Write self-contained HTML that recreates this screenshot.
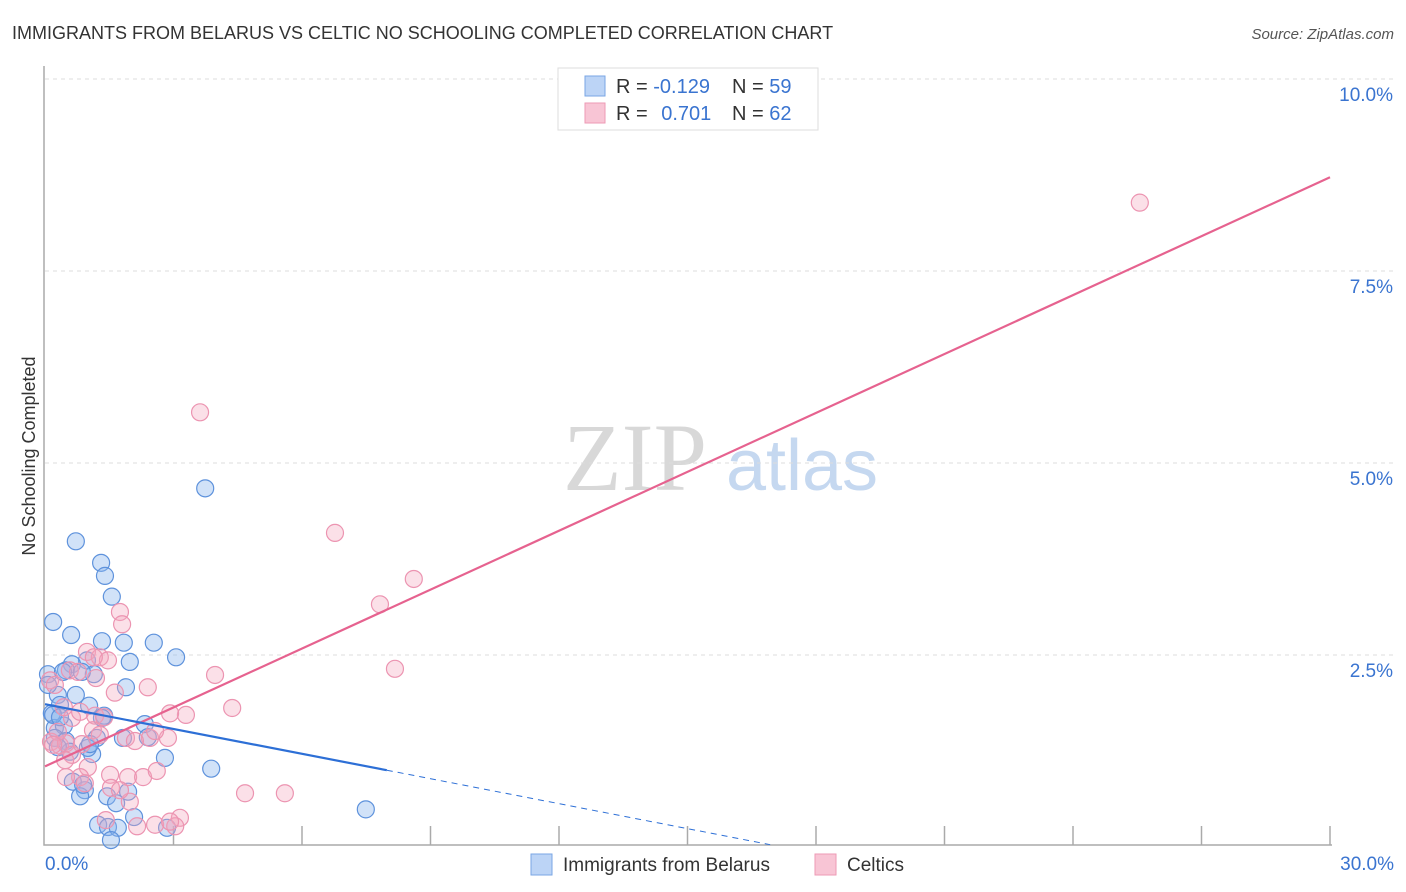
<!DOCTYPE html>
<html><head><meta charset="utf-8">
<style>
body{margin:0;background:#fff;font-family:"Liberation Sans",sans-serif;}
svg{display:block}
</style></head>
<body>
<svg id="chart" width="1406" height="892" xmlns="http://www.w3.org/2000/svg">
<text x="12" y="39" font-size="18" fill="#333">IMMIGRANTS FROM BELARUS VS CELTIC NO SCHOOLING COMPLETED CORRELATION CHART</text>
<text x="1394" y="39" font-size="15" fill="#555" font-style="italic" text-anchor="end">Source: ZipAtlas.com</text>
<text x="35" y="456" font-size="18" fill="#333" text-anchor="middle" transform="rotate(-90 35 456)">No Schooling Completed</text>
<g>
<text x="635" y="490" font-size="96" fill="#d8d8d8" text-anchor="middle" font-family="Liberation Serif,serif">ZIP</text>
<text x="802" y="490" font-size="72" fill="#c5d8f0" text-anchor="middle">atlas</text>
</g>
<g id="grid"></g>
<g id="axes"></g>
<g id="pts"></g>
<g id="lines"></g>
<g>
<rect x="558" y="68" width="260" height="62" fill="#fff" stroke="#ddd"/>
<rect x="585" y="76" width="20" height="20" fill="#bcd4f6" stroke="#7aa6e4"/>
<rect x="585" y="103" width="20" height="20" fill="#f8c5d5" stroke="#ee9ab5"/>
<text x="616" y="93" font-size="20" fill="#333">R = <tspan fill="#3a74d0">-0.129</tspan></text>
<text x="732" y="93" font-size="20" fill="#333">N = <tspan fill="#3a74d0">59</tspan></text>
<text x="616" y="120" font-size="20" fill="#333">R = <tspan fill="#3a74d0" dx="8">0.701</tspan></text>
<text x="732" y="120" font-size="20" fill="#333">N = <tspan fill="#3a74d0">62</tspan></text>
</g>
<g>
<rect x="531" y="854" width="21" height="21" fill="#bcd4f6" stroke="#7aa6e4"/>
<text x="563" y="871" font-size="19" fill="#333">Immigrants from Belarus</text>
<rect x="815" y="854" width="21" height="21" fill="#f8c5d5" stroke="#ee9ab5"/>
<text x="847" y="871" font-size="19" fill="#333">Celtics</text>
</g>
</svg>
<script>
const xTicks=[0,3,6,9,12,15,18,21,24,27,30];
const yTicks=[2.5,5.0,7.5,10.0];
const blueX=[0.72,1.31,1.40,1.56,0.19,0.61,1.33,1.84,2.54,3.06,1.98,0.98,0.63,0.49,1.14,0.07,1.89,0.72,0.30,0.35,1.03,1.38,2.33,0.16,0.23,0.44,1.82,1.21,0.23,1.10,1.00,2.80,3.88,0.65,0.93,0.82,1.45,1.94,1.66,2.08,1.24,1.47,1.70,2.85,1.54,7.49,3.74,0.19,0.49,0.07,0.86,0.35,0.58,0.89,0.30,1.33,2.40,0.42,1.05];
const blueY=[3.98,3.70,3.53,3.26,2.93,2.76,2.68,2.66,2.66,2.47,2.41,2.43,2.38,2.30,2.25,2.25,2.08,1.98,1.98,1.85,1.84,1.71,1.60,1.74,1.55,1.58,1.42,1.42,1.42,1.21,1.29,1.16,1.02,0.85,0.74,0.66,0.66,0.72,0.57,0.39,0.29,0.26,0.25,0.25,0.09,0.49,4.67,1.72,1.38,2.11,2.28,1.69,1.24,0.81,1.30,1.68,1.43,2.28,1.34];
const pinkX=[25.56,3.62,6.77,8.61,7.82,1.75,1.80,8.17,3.97,2.40,4.37,3.29,2.92,0.98,1.28,1.47,1.14,1.63,1.17,1.38,0.63,1.12,1.89,2.45,2.87,2.57,0.14,0.35,0.49,0.63,1.00,0.82,1.52,1.94,2.29,2.61,0.49,4.67,5.60,1.98,3.15,1.42,2.57,2.15,3.04,2.92,1.54,0.30,0.12,0.58,0.77,0.23,1.19,0.44,0.82,0.19,0.93,1.75,0.47,2.10,1.28,0.86];
const pinkY=[8.39,5.66,4.09,3.49,3.16,3.06,2.90,2.32,2.24,2.08,1.81,1.72,1.74,2.54,2.47,2.43,2.47,2.01,1.71,1.69,1.68,1.52,1.42,1.42,1.42,1.51,1.37,1.32,1.35,1.20,1.04,0.91,0.94,0.91,0.91,0.99,0.91,0.70,0.70,0.59,0.38,0.35,0.29,0.27,0.27,0.33,0.77,1.50,2.17,2.30,2.28,2.11,2.20,1.82,1.76,1.33,0.83,0.74,1.13,1.38,1.46,1.34];
const blueTrend=[[0,1.86],[7.98,1.00],[16.93,0.03]];
const pinkTrend=[[0,1.05],[30,8.72]];
const NS='http://www.w3.org/2000/svg';
const X0=45,X1=1330,Y0=847,PX=76.8;
function sx(v){return X0+v/30*(X1-X0);}
function sy(v){return Y0-v*PX;}
function mk(tag,attrs,parent){const e=document.createElementNS(NS,tag);for(const k in attrs)e.setAttribute(k,attrs[k]);parent.appendChild(e);return e;}
const grid=document.getElementById('grid'),axes=document.getElementById('axes'),pts=document.getElementById('pts'),lines=document.getElementById('lines');
yTicks.forEach(t=>{
 const l=mk('line',{x1:X0,x2:1395,y1:sy(t),y2:sy(t),stroke:'#ddd','stroke-dasharray':'4,4'},grid);
 
 
 const tx=mk('text',{x:1393,y:sy(t)+22,'font-size':19,fill:'#3a74d0','text-anchor':'end'},axes);
 tx.textContent=t.toFixed(1)+'%';
 
 
});
const ax=mk('path',{d:`M${X0-1} 66 V845 H1332`,fill:'none',stroke:'#aaa','stroke-width':1.5},axes);


xTicks.forEach((t,i)=>{
 if(i===0)return;
 const tk=mk('line',{x1:sx(t),x2:sx(t),y1:826,y2:845,stroke:'#aaa','stroke-width':1.5},axes);
 
 
});
[[0,'start',45],[30,'end',1394]].forEach(([t,a,x])=>{
 const tx=mk('text',{x:x,y:870,'font-size':19,fill:'#3a74d0','text-anchor':a},axes);
 tx.textContent=t.toFixed(1)+'%';
 
 
});
blueX.forEach((v,i)=>{
 const c=mk('circle',{cx:sx(v),cy:sy(blueY[i]),r:8.5,fill:'rgba(140,182,238,0.4)',stroke:'#5e92dc','stroke-width':1.2},pts);
 
 
});
pinkX.forEach((v,i)=>{
 const c=mk('circle',{cx:sx(v),cy:sy(pinkY[i]),r:8.5,fill:'rgba(244,165,190,0.35)',stroke:'#ec94b1','stroke-width':1.2},pts);
 
 
});
const pl=mk('line',{x1:sx(pinkTrend[0][0]),y1:sy(pinkTrend[0][1]),x2:sx(pinkTrend[1][0]),y2:sy(pinkTrend[1][1]),stroke:'#e6628f','stroke-width':2.2},lines);


const bl=mk('line',{x1:sx(blueTrend[0][0]),y1:sy(blueTrend[0][1]),x2:sx(blueTrend[1][0]),y2:sy(blueTrend[1][1]),stroke:'#2d6fd6','stroke-width':2.2},lines);


const bd=mk('line',{x1:sx(blueTrend[1][0]),y1:sy(blueTrend[1][1]),x2:sx(blueTrend[2][0]),y2:sy(blueTrend[2][1]),stroke:'#2d6fd6','stroke-width':1,'stroke-dasharray':'6,5'},lines);


</script>
</body></html>
